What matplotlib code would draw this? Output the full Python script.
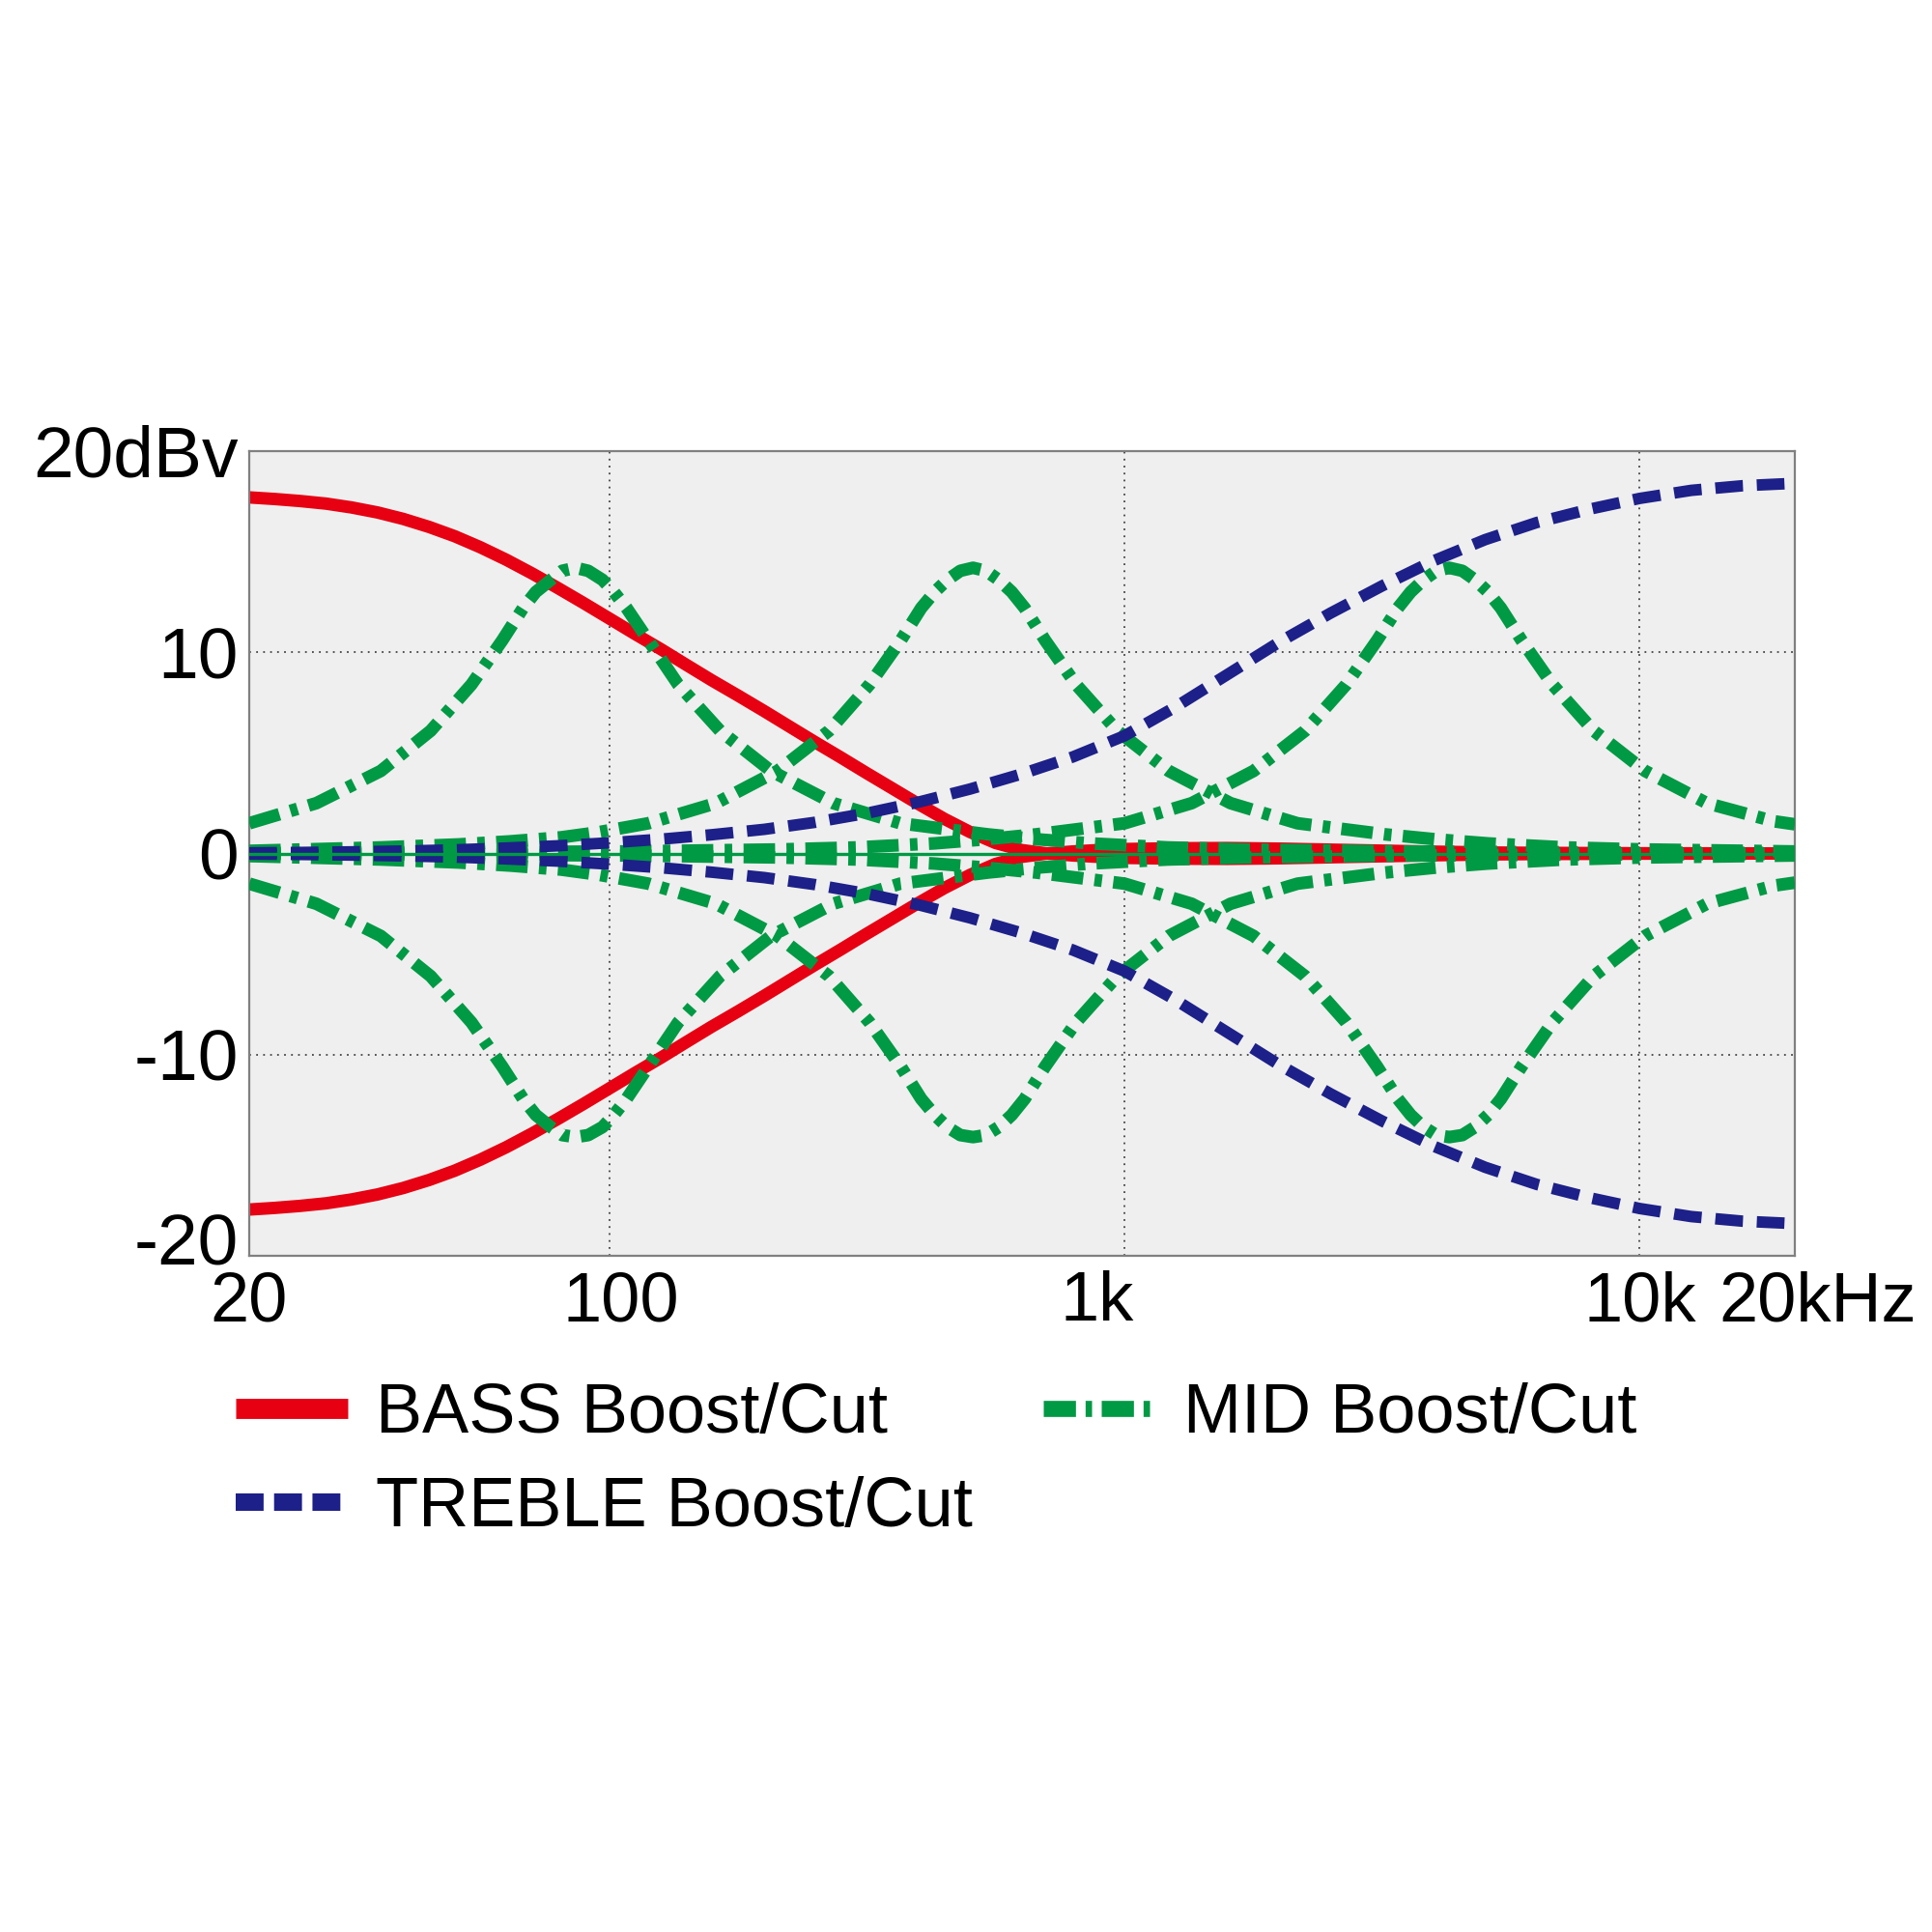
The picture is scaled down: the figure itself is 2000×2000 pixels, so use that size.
import matplotlib.pyplot as plt
from matplotlib.lines import Line2D
from matplotlib.ticker import NullLocator
from matplotlib.transforms import ScaledTranslation

plt.rcParams['font.family'] = ['Liberation Sans', 'DejaVu Sans']

# axis ticks
freq_ticks = [20, 100, 1000, 10000, 20000]
freq_tick_labels = ['20', '100', '1k', '10k', '20kHz']
db_ticks = [-20, -10, 0, 10, 20]
db_tick_labels = ['-20', '-10', '0', '10', '20dBv']

# BASS boost / cut
bass_freq = [20, 22.4, 25.1, 28.2, 31.6, 35.5, 39.8, 44.7, 50.1, 56.2, 63.1,
             70.8, 79.4, 89.1, 100, 112, 126, 141, 158, 178, 200, 224, 251,
             282, 316, 355, 398, 447, 501, 562, 631, 708, 794, 891, 1000, 1259,
             1585, 1995, 2512, 3162, 3981, 5012, 6310, 10000, 20000]
bass_boost_db = [17.70, 17.62, 17.52, 17.39, 17.20, 16.95, 16.63, 16.23, 15.77,
                 15.22, 14.60, 13.92, 13.20, 12.45, 11.68, 10.92, 10.15, 9.38,
                 8.61, 7.84, 7.07, 6.30, 5.53, 4.76, 3.99, 3.22, 2.46, 1.72,
                 1.07, 0.52, 0.17, 0.0, -0.10, -0.17, -0.22, -0.26, -0.27,
                 -0.24, -0.19, -0.14, -0.09, -0.05, -0.03, -0.01, 0.0]
bass_cut_db = [-17.70, -17.62, -17.52, -17.39, -17.20, -16.95, -16.63, -16.23,
               -15.77, -15.22, -14.60, -13.92, -13.20, -12.45, -11.68, -10.92,
               -10.15, -9.38, -8.61, -7.84, -7.07, -6.30, -5.53, -4.76, -3.99,
               -3.22, -2.46, -1.72, -1.07, -0.52, -0.17, 0.0, 0.10, 0.17, 0.22,
               0.26, 0.27, 0.24, 0.19, 0.14, 0.09, 0.05, 0.03, 0.01, 0.0]

# TREBLE boost / cut
treble_freq = [20, 25.1, 31.6, 39.8, 50.1, 63.1, 79.4, 100, 126, 158, 200, 251,
               316, 398, 501, 631, 794, 1000, 1259, 1585, 1995, 2512, 3162,
               3981, 5012, 6310, 7943, 10000, 12589, 15849, 20000]
treble_boost_db = [0.03, 0.05, 0.08, 0.12, 0.18, 0.27, 0.38, 0.53, 0.71, 0.93,
                   1.2, 1.55, 2.0, 2.55, 3.2, 3.95, 4.8, 5.85, 7.3, 8.9, 10.5,
                   11.95, 13.3, 14.55, 15.6, 16.45, 17.1, 17.65, 18.05, 18.28,
                   18.4]
treble_cut_db = [-0.03, -0.05, -0.08, -0.12, -0.18, -0.27, -0.38, -0.53, -0.71,
                 -0.93, -1.2, -1.55, -2.0, -2.55, -3.2, -3.95, -4.8, -5.85,
                 -7.3, -8.9, -10.5, -11.95, -13.3, -14.55, -15.6, -16.45, -17.1,
                 -17.65, -18.05, -18.28, -18.4]

# MID boost / cut, three centre positions
mid_low_freq = [20, 27, 36, 45, 54, 62, 68, 72, 77, 81, 86, 91, 97, 102, 108,
                119, 136, 164, 206, 272, 367, 543, 680, 860, 1213, 1716, 3424,
                8600, 20000]
mid_low_boost_db = [1.5, 2.5, 4.1, 6.1, 8.4, 10.6, 12.2, 13.0, 13.6, 14.05,
                    14.2, 14.05, 13.6, 13.0, 12.2, 10.6, 8.4, 6.1, 4.1, 2.5,
                    1.5, 0.95, 0.7, 0.5, 0.3, 0.2, 0.1, 0.05, 0.02]
mid_low_cut_db = [-1.5, -2.5, -4.1, -6.1, -8.4, -10.6, -12.2, -13.0, -13.6,
                  -14.0, -14.1, -14.0, -13.6, -13.0, -12.2, -10.6, -8.4, -6.1,
                  -4.1, -2.5, -1.5, -0.95, -0.7, -0.5, -0.3, -0.2, -0.1, -0.05,
                  -0.02]

mid_center_freq = [20, 25.5, 36, 51, 64, 80.5, 95, 119, 161, 212, 267, 320,
                   368, 403, 428, 453, 480, 508, 538, 570, 604, 640, 701, 805,
                   968, 1219, 1606, 2167, 3205, 4030, 5080, 7170, 10136, 20000]
mid_center_boost_db = [0.13, 0.2, 0.3, 0.45, 0.6, 0.8, 1.05, 1.5, 2.5, 4.1,
                       6.1, 8.4, 10.6, 12.2, 13.0, 13.6, 14.05, 14.2, 14.05,
                       13.6, 13.0, 12.2, 10.6, 8.4, 6.1, 4.1, 2.5, 1.5, 0.95,
                       0.7, 0.5, 0.3, 0.2, 0.1]
mid_center_cut_db = [-0.13, -0.2, -0.3, -0.45, -0.6, -0.8, -1.05, -1.5, -2.5,
                     -4.1, -6.1, -8.4, -10.6, -12.2, -13.0, -13.6, -14.0, -14.1,
                     -14.0, -13.6, -13.0, -12.2, -10.6, -8.4, -6.1, -4.1, -2.5,
                     -1.5, -0.95, -0.7, -0.5, -0.3, -0.2, -0.1]

mid_high_freq = [20, 42.7, 107, 214, 302, 427, 536, 674, 1000, 1350, 1780, 2241,
                 2694, 3093, 3392, 3593, 3806, 4030, 4270, 4525, 4791, 5075,
                 5376, 5894, 6768, 8137, 10243, 13503, 18215, 20000]
mid_high_boost_db = [0.02, 0.05, 0.1, 0.2, 0.3, 0.5, 0.7, 0.95, 1.5, 2.5, 4.1,
                     6.1, 8.4, 10.6, 12.2, 13.0, 13.6, 14.05, 14.2, 14.05,
                     13.6, 13.0, 12.2, 10.6, 8.4, 6.1, 4.1, 2.5, 1.6, 1.45]
mid_high_cut_db = [-0.02, -0.05, -0.1, -0.2, -0.3, -0.5, -0.7, -0.95, -1.5,
                   -2.5, -4.1, -6.1, -8.4, -10.6, -12.2, -13.0, -13.6, -14.0,
                   -14.1, -14.0, -13.6, -13.0, -12.2, -10.6, -8.4, -6.1, -4.1,
                   -2.5, -1.6, -1.45]

mid_flat_freq = [20, 20000]
mid_flat_db = [0, 0]

red = '#E60012'
navy = '#1D2088'
green = '#009944'

fig = plt.figure(figsize=(20, 20), dpi=100)
ax = fig.add_axes([0.129, 0.35, 0.8, 0.4165])
ax.set_facecolor('#EFEFEF')

blue_dash = (0, (2.4, 1.2))
green_dashdot = (0, (2.5, 0.9, 0.6, 0.9))

ax.plot(bass_freq, bass_boost_db, color=red, lw=9.3, zorder=2, solid_capstyle='butt')
ax.plot(bass_freq, bass_cut_db, color=red, lw=9.3, zorder=2, solid_capstyle='butt')
for fr, up, dn in [(mid_low_freq, mid_low_boost_db, mid_low_cut_db),
                   (mid_center_freq, mid_center_boost_db, mid_center_cut_db),
                   (mid_high_freq, mid_high_boost_db, mid_high_cut_db)]:
    ax.plot(fr, up, color=green, lw=9.4, ls=green_dashdot, zorder=3)
    ax.plot(fr, dn, color=green, lw=9.4, ls=green_dashdot, zorder=3)
ax.plot(treble_freq, treble_boost_db, color=navy, lw=8.6, ls=blue_dash, zorder=4)
ax.plot(treble_freq, treble_cut_db, color=navy, lw=8.6, ls=blue_dash, zorder=4)
ax.plot(mid_flat_freq, mid_flat_db, color=green, lw=2.4, zorder=5)

ax.set_xscale('log')
ax.set_xlim(20, 20000)
ax.set_ylim(-20, 20)
ax.xaxis.set_minor_locator(NullLocator())
ax.set_xticks(freq_ticks)
ax.set_xticklabels(freq_tick_labels)
ax.set_yticks(db_ticks)
ax.set_yticklabels(db_tick_labels)
ax.tick_params(length=0, colors='black')
ax.tick_params(axis='x', pad=11, labelsize=52)
ax.tick_params(axis='y', pad=8, labelsize=54)
ax.grid(True, color='#444444', ls=(0, (1, 3)), lw=1.3)
ax.set_axisbelow(True)
for s in ax.spines.values():
    s.set_color('#808080')
    s.set_linewidth(1.6)

# nudge a few tick labels like the original artwork
x_shift = {'100': 12, '1k': -28, '20kHz': 24}
for lab in ax.get_xticklabels():
    dx = x_shift.get(lab.get_text(), 0)
    if dx:
        lab.set_transform(lab.get_transform() + ScaledTranslation(dx / 100, 0, fig.dpi_scale_trans))
for lab in ax.get_yticklabels():
    if lab.get_text() == '-20':
        lab.set_transform(lab.get_transform() + ScaledTranslation(0, 18 / 100, fig.dpi_scale_trans))

handles = [
    Line2D([], [], color=red, lw=15, solid_capstyle='butt'),
    Line2D([], [], color=navy, lw=13, ls=(0, (1.6, 0.6))),
    Line2D([], [], color=green, lw=12, ls=(0, (2.0, 0.6, 0.4, 0.6))),
]
labels = ['BASS Boost/Cut', 'TREBLE Boost/Cut', 'MID Boost/Cut']
fig.legend(handles, labels, loc='upper left', bbox_to_anchor=(0.104, 0.3025),
           ncol=2, frameon=False, fontsize=52, borderpad=0, handlelength=1.6,
           handletextpad=0.4, columnspacing=1.02, labelspacing=0.42)

fig.savefig('out.png', dpi=100, facecolor='white')
